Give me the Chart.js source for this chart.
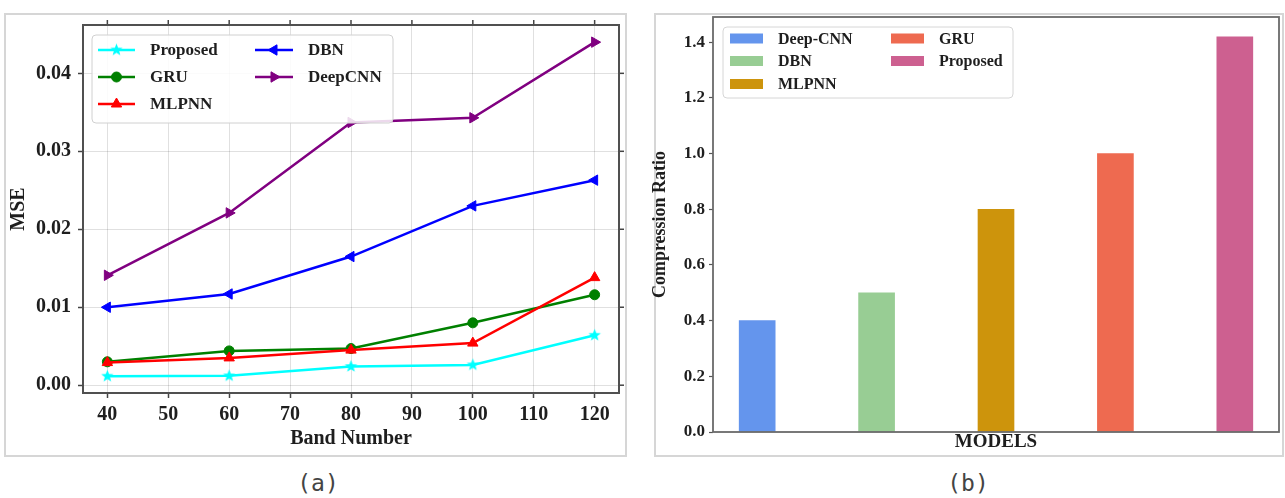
<!DOCTYPE html>
<html><head><meta charset="utf-8">
<script src="https://cdn.jsdelivr.net/npm/chart.js@4.4.1/dist/chart.umd.min.js"></script>
<style>
html,body{margin:0;padding:0;background:#fff;width:1285px;height:498px;overflow:hidden;position:relative}
.frame{position:absolute;border:2px solid #d6d6d6;box-sizing:border-box}
#fa{left:4px;top:13px;width:623px;height:444px}
#fb{left:654px;top:13px;width:630px;height:444px}
canvas{position:absolute}
#ca{left:6px;top:15px}
#cb{left:646px;top:14px}
.cap{position:absolute;top:470px;height:30px;line-height:30px;font:23px "DejaVu Sans Mono",monospace;color:#444;width:80px;text-align:center}
</style></head>
<body>
<div class="frame" id="fa"></div>
<div class="frame" id="fb"></div>
<canvas id="ca" width="620" height="440"></canvas>
<canvas id="cb" width="637" height="442"></canvas>
<div class="cap" style="left:278px">(a)</div>
<div class="cap" style="left:928px">(b)</div>
<script>
// ---------- data (a) ----------
const bandNumbers = [40, 60, 80, 100, 120];
const proposedMSE = [0.00115, 0.0012, 0.0024, 0.0026, 0.0064];
const gruMSE      = [0.0030, 0.0044, 0.0047, 0.0080, 0.0116];
const mlpnnMSE    = [0.0029, 0.0035, 0.0045, 0.0054, 0.0138];
const dbnMSE      = [0.0100, 0.0117, 0.0165, 0.0230, 0.0263];
const deepcnnMSE  = [0.0141, 0.0221, 0.0337, 0.0343, 0.0440];
const lineLabels  = ['Proposed', 'GRU', 'MLPNN', 'DBN', 'DeepCNN'];
const xTicksA = [40, 50, 60, 70, 80, 90, 100, 110, 120];
const yTicksA = [0.00, 0.01, 0.02, 0.03, 0.04];
// ---------- data (b) ----------
const models = ['Deep-CNN', 'DBN', 'MLPNN', 'GRU', 'Proposed'];
const compressionRatios = [0.40, 0.50, 0.80, 1.00, 1.42];
const yTicksB = [0.0, 0.2, 0.4, 0.6, 0.8, 1.0, 1.2, 1.4];

const F = 'Liberation Serif';
const TXT = '#1e1e1e';

// star marker image (matplotlib '*')
function starImage(color, r) {
  const c = document.createElement('canvas');
  const s = Math.ceil(r * 2 + 2);
  c.width = s; c.height = s;
  const g = c.getContext('2d');
  g.fillStyle = color;
  g.beginPath();
  for (let i = 0; i < 10; i++) {
    const rr = i % 2 === 0 ? r : r * 0.42;
    const a = -Math.PI / 2 + i * Math.PI / 5;
    const px = s / 2 + rr * Math.cos(a), py = s / 2 + rr * Math.sin(a);
    i === 0 ? g.moveTo(px, py) : g.lineTo(px, py);
  }
  g.closePath(); g.fill();
  return c;
}

const lineStyles = [
  {color: '#00ffff', pointStyle: starImage('#00ffff', 6.5), radius: 6, rotation: 0},
  {color: '#008000', pointStyle: 'circle', radius: 5, rotation: 0},
  {color: '#ff0000', pointStyle: 'triangle', radius: 6, rotation: 0},
  {color: '#0000ff', pointStyle: 'triangle', radius: 6, rotation: -90},
  {color: '#800080', pointStyle: 'triangle', radius: 6, rotation: 90},
];
const seriesA = [proposedMSE, gruMSE, mlpnnMSE, dbnMSE, deepcnnMSE];

const datasetsA = seriesA.map((vals, i) => ({
  label: lineLabels[i],
  data: bandNumbers.map((b, j) => ({x: b, y: vals[j]})),
  borderColor: lineStyles[i].color,
  backgroundColor: lineStyles[i].color,
  borderWidth: 2.5,
  pointStyle: lineStyles[i].pointStyle,
  pointRadius: lineStyles[i].radius,
  pointRotation: lineStyles[i].rotation,
  pointBorderWidth: 1,
  pointBackgroundColor: lineStyles[i].color,
  pointBorderColor: lineStyles[i].color,
  tension: 0,
  order: seriesA.length - i,
}));

function line(ctx, x1, y1, x2, y2) { ctx.beginPath(); ctx.moveTo(x1, y1); ctx.lineTo(x2, y2); ctx.stroke(); }
function roundRect(ctx, x, y, w, h, r) {
  ctx.beginPath();
  ctx.moveTo(x + r, y); ctx.lineTo(x + w - r, y); ctx.quadraticCurveTo(x + w, y, x + w, y + r);
  ctx.lineTo(x + w, y + h - r); ctx.quadraticCurveTo(x + w, y + h, x + w - r, y + h);
  ctx.lineTo(x + r, y + h); ctx.quadraticCurveTo(x, y + h, x, y + h - r);
  ctx.lineTo(x, y + r); ctx.quadraticCurveTo(x, y, x + r, y); ctx.closePath();
}
function noPad(s) { s.paddingTop = 0; s.paddingBottom = 0; s.paddingLeft = 0; s.paddingRight = 0; }

const decorA = {
  id: 'decorA',
  afterDatasetsDraw(chart) {
    const {ctx, chartArea: a, scales: {x, y}} = chart;
    ctx.save();
    ctx.strokeStyle = '#444'; ctx.lineWidth = 1.5;
    x.ticks.forEach(t => { const px = x.getPixelForValue(t.value); line(ctx, px, a.top, px, a.top - 5); });
    y.ticks.forEach(t => { const py = y.getPixelForValue(t.value); line(ctx, a.right, py, a.right + 5, py); });
    ctx.strokeStyle = '#505050'; ctx.lineWidth = 2;
    ctx.strokeRect(a.left, a.top, a.right - a.left, a.bottom - a.top);
    ctx.restore();
  },
  afterDraw(chart) {
    const ctx = chart.ctx;
    const L = {x: 86, y: 20, w: 301, h: 88};
    ctx.save();
    roundRect(ctx, L.x, L.y, L.w, L.h, 4);
    ctx.fillStyle = 'rgba(255,255,255,0.85)'; ctx.fill();
    ctx.strokeStyle = '#d0d0d0'; ctx.lineWidth = 1; ctx.stroke();
    const rows = [35, 62, 89];
    const cols = [{h0: 92, h1: 129, tx: 144}, {h0: 249, h1: 287, tx: 302}];
    chart.data.datasets.forEach((ds, i) => {
      const c = cols[Math.floor(i / 3)], ry = rows[i % 3];
      ctx.strokeStyle = ds.borderColor; ctx.lineWidth = 2.5;
      line(ctx, c.h0, ry, c.h1, ry);
      ctx.fillStyle = ds.borderColor; ctx.strokeStyle = ds.borderColor; ctx.lineWidth = 1;
      Chart.helpers.drawPoint(ctx, {pointStyle: ds.pointStyle, radius: ds.pointRadius, rotation: ds.pointRotation, borderWidth: 1}, (c.h0 + c.h1) / 2, ry);
      ctx.fillStyle = TXT; ctx.font = 'bold 17px "' + F + '"';
      ctx.textBaseline = 'middle'; ctx.textAlign = 'left';
      ctx.fillText(ds.label, c.tx, ry + 1);
    });
    ctx.restore();
  }
};

new Chart(document.getElementById('ca'), {
  type: 'line',
  data: {datasets: datasetsA},
  options: {
    responsive: false, animation: false, devicePixelRatio: 1,
    layout: {padding: {top: 10, right: 6, left: 0, bottom: 0}},
    plugins: {legend: {display: false}, tooltip: {enabled: false}},
    scales: {
      x: {
        type: 'linear', min: 36, max: 124,
        afterBuildTicks: s => { s.ticks = xTicksA.map(v => ({value: v})); },
        afterFit: s => { s.height = 62; noPad(s); },
        grid: {color: 'rgba(0,0,0,0.12)', lineWidth: 1, tickLength: 5, tickColor: '#444', tickWidth: 1.5},
        border: {display: false},
        ticks: {font: {family: F, size: 20, weight: 'bold'}, color: TXT, padding: 5, maxRotation: 0, autoSkip: false},
        title: {display: true, text: 'Band Number', font: {family: F, size: 20, weight: 'bold'}, color: TXT, padding: {top: 0, bottom: 4}}
      },
      y: {
        type: 'linear', min: -0.001, max: 0.0462,
        afterBuildTicks: s => { s.ticks = yTicksA.map(v => ({value: v})); },
        afterFit: s => { s.width = 77; noPad(s); },
        grid: {color: 'rgba(0,0,0,0.12)', lineWidth: 1, tickLength: 5, tickColor: '#444', tickWidth: 1.5},
        border: {display: false},
        ticks: {font: {family: F, size: 20, weight: 'bold'}, color: TXT, padding: 7, callback: v => v.toFixed(2)},
        title: {display: true, text: 'MSE', font: {family: F, size: 20, weight: 'bold'}, color: TXT, padding: {top: 1, bottom: 0}}
      }
    }
  },
  plugins: [decorA]
});

// ---------- chart (b) ----------
const barColors = ['#6495ed', '#98cd94', '#cd940c', '#ee6a50', '#cd6090'];

const decorB = {
  id: 'decorB',
  afterDatasetsDraw(chart) {
    const {ctx, chartArea: a} = chart;
    ctx.save();
    ctx.strokeStyle = '#6a6a6a'; ctx.lineWidth = 1.8;
    ctx.strokeRect(a.left, a.top, a.right - a.left, a.bottom - a.top);
    ctx.restore();
  },
  afterDraw(chart) {
    const ctx = chart.ctx;
    const L = {x: 77, y: 13, w: 290, h: 71};
    ctx.save();
    roundRect(ctx, L.x, L.y, L.w, L.h, 4);
    ctx.fillStyle = 'rgba(255,255,255,0.85)'; ctx.fill();
    ctx.strokeStyle = '#d6d6d6'; ctx.lineWidth = 1; ctx.stroke();
    const rows = [24.5, 47, 70];
    const cols = [{p0: 84, p1: 117, tx: 132}, {p0: 245, p1: 278, tx: 293}];
    models.forEach((m, i) => {
      const c = cols[Math.floor(i / 3)], ry = rows[i % 3];
      ctx.fillStyle = barColors[i];
      ctx.fillRect(c.p0, ry - 5, c.p1 - c.p0, 10);
      ctx.fillStyle = TXT; ctx.font = 'bold 16px "' + F + '"';
      ctx.textBaseline = 'middle'; ctx.textAlign = 'left';
      ctx.fillText(m, c.tx, ry + 1);
    });
    ctx.restore();
  }
};

new Chart(document.getElementById('cb'), {
  type: 'bar',
  data: {
    datasets: [{
      label: 'Compression Ratio',
      data: models.map((m, i) => ({x: i, y: compressionRatios[i]})),
      backgroundColor: barColors,
      borderWidth: 0,
      barThickness: 36,
    }]
  },
  options: {
    responsive: false, animation: false, devicePixelRatio: 1,
    layout: {padding: {top: 3, right: 4, left: 0, bottom: 0}},
    plugins: {legend: {display: false}, tooltip: {enabled: false}},
    scales: {
      x: {
        type: 'linear', min: -0.37, max: 4.37, offset: false,
        afterFit: s => { s.height = 24; noPad(s); },
        grid: {display: false},
        border: {display: false},
        ticks: {display: false},
        title: {display: true, text: 'MODELS', font: {family: F, size: 19, weight: 'bold'}, color: TXT, padding: {top: 0, bottom: 3}}
      },
      y: {
        type: 'linear', min: 0, max: 1.491,
        afterBuildTicks: s => { s.ticks = yTicksB.map(v => ({value: v})); },
        afterFit: s => { s.width = 67; noPad(s); },
        grid: {display: true, drawOnChartArea: false, drawTicks: true, tickLength: 4, tickColor: '#555', tickWidth: 1.2},
        border: {display: false},
        ticks: {font: {family: F, size: 17, weight: 'bold'}, color: TXT, padding: 4, callback: v => v.toFixed(1)},
        title: {display: true, text: 'Compression Ratio', font: {family: F, size: 18, weight: 'bold'}, color: TXT, padding: {top: 4, bottom: 0}}
      }
    }
  },
  plugins: [decorB]
});
</script>
</body></html>
